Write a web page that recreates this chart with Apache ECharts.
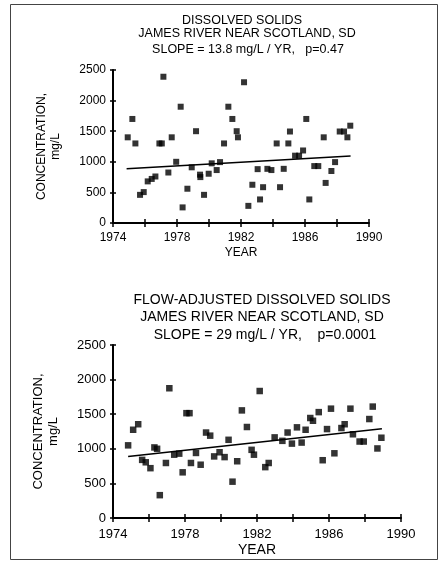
<!DOCTYPE html>
<html>
<head>
<meta charset="utf-8">
<script src="https://cdn.jsdelivr.net/npm/echarts@6/dist/echarts.min.js"></script>
<style>
  html, body { margin: 0; padding: 0; background: #fff; }
  #chart { width: 440px; height: 561px; }
</style>
</head>
<body>
<div id="chart"></div>
<script>
// dissolved solids (top panel)
const topYears = [
  1974.92, 1975.21, 1975.40, 1975.69, 1975.92, 1976.17, 1976.42, 1976.65, 1976.90, 1977.05,
  1977.15, 1977.46, 1977.67, 1977.95, 1978.23, 1978.35, 1978.65, 1978.92, 1979.19, 1979.44,
  1979.46, 1979.69, 1979.98, 1980.17, 1980.48, 1980.69, 1980.94, 1981.21, 1981.46, 1981.73,
  1981.81, 1982.19, 1982.46, 1982.71, 1983.04, 1983.19, 1983.38, 1983.65, 1983.90, 1984.23,
  1984.44, 1984.67, 1984.96, 1985.06, 1985.38, 1985.63, 1985.88, 1986.08, 1986.27, 1986.58,
  1986.83, 1987.17, 1987.29, 1987.65, 1987.88, 1988.17, 1988.44, 1988.65, 1988.83
]
const topValues = [
  1400, 1700, 1300, 460, 505, 680, 720, 760, 1300, 1300,
  2390, 825, 1400, 1000, 1900, 255, 560, 910, 1500, 790,
  750, 460, 805, 975, 865, 995, 1300, 1900, 1700, 1500,
  1400, 2300, 280, 625, 880, 385, 585, 885, 865, 1300,
  585, 885, 1300, 1495, 1100, 1100, 1185, 1700, 385, 930,
  930, 1400, 655, 850, 995, 1495, 1495, 1400, 1590
]
const topTrend = [[1974.85, 888], [1988.85, 1095]]

// flow-adjusted dissolved solids (bottom panel)
const bottomYears = [
  1974.84, 1975.12, 1975.40, 1975.62, 1975.82, 1976.08, 1976.30, 1976.45, 1976.60, 1976.94,
  1977.13, 1977.40, 1977.68, 1977.87, 1978.08, 1978.25, 1978.33, 1978.61, 1978.87, 1979.17,
  1979.40, 1979.62, 1979.92, 1980.20, 1980.42, 1980.64, 1980.90, 1981.16, 1981.44, 1981.70,
  1981.83, 1982.15, 1982.46, 1982.65, 1982.98, 1983.41, 1983.70, 1983.94, 1984.22, 1984.48,
  1984.70, 1984.96, 1985.11, 1985.43, 1985.65, 1985.89, 1986.11, 1986.30, 1986.69, 1986.87,
  1987.19, 1987.33, 1987.70, 1987.93, 1988.24, 1988.43, 1988.69, 1988.91
]
const bottomValues = [
  1050, 1275, 1355, 840, 805, 720, 1020, 1000, 330, 795,
  1875, 915, 930, 660, 1515, 1515, 795, 940, 770, 1235,
  1190, 890, 950, 880, 1130, 525, 820, 1555, 1315, 985,
  915, 1835, 735, 795, 1165, 1115, 1235, 1075, 1310, 1090,
  1275, 1445, 1405, 1530, 835, 1285, 1580, 935, 1300, 1355,
  1580, 1210, 1105, 1105, 1430, 1610, 1005, 1160
]
const bottomTrend = [[1974.84, 890], [1988.94, 1290]]

const yearTicks = [1974, 1978, 1982, 1986, 1990]

const font = "Liberation Sans"
const zip = (xs, ys) => xs.map((x, i) => [x, ys[i]])

const chart = echarts.init(document.getElementById("chart"))

// one visible axis pair + one overlay pair with inward ticks, so the ticks cross the line
function xAxes(gridIndex, labelSize, nameSize, margin, nameGap) {
  return [
    {
      gridIndex: gridIndex,
      type: "value",
      min: 1974,
      max: 1990,
      interval: 2,
      name: "YEAR",
      nameLocation: "middle",
      nameGap: nameGap,
      nameTextStyle: { color: "#000", fontFamily: font, fontSize: nameSize },
      axisLine: { lineStyle: { color: "#000", width: 2 } },
      axisTick: { length: 4, lineStyle: { color: "#000", width: 1.5 } },
      axisLabel: {
        color: "#000",
        fontFamily: font,
        fontSize: labelSize,
        margin: margin,
        formatter: (v) => (yearTicks.includes(v) ? String(v) : ""),
      },
      splitLine: { show: false },
    },
    {
      gridIndex: gridIndex + 2,
      type: "value",
      min: 1974,
      max: 1990,
      interval: 2,
      axisLine: { show: false },
      axisTick: { inside: true, length: 4, lineStyle: { color: "#000", width: 1.5 } },
      axisLabel: { show: false },
      splitLine: { show: false },
    },
  ]
}

function yAxes(gridIndex, labelSize, nameSize, nameGap) {
  return [
    {
      gridIndex: gridIndex,
      type: "value",
      min: 0,
      max: 2500,
      interval: 500,
      name: "CONCENTRATION,\nmg/L",
      nameLocation: "middle",
      nameRotate: 90,
      nameGap: nameGap,
      nameTextStyle: { color: "#000", fontFamily: font, fontSize: nameSize, lineHeight: nameSize + 2 },
      axisLine: { lineStyle: { color: "#000", width: 2 } },
      axisTick: { length: 3, lineStyle: { color: "#000", width: 1.5 } },
      axisLabel: {
        color: "#000",
        fontFamily: font,
        fontSize: labelSize,
        margin: 7,
        formatter: (v) => String(v),
      },
      splitLine: { show: false },
    },
    {
      gridIndex: gridIndex + 2,
      type: "value",
      min: 0,
      max: 2500,
      interval: 500,
      axisLine: { show: false },
      axisTick: { inside: true, length: 3, lineStyle: { color: "#000", width: 1.5 } },
      axisLabel: { show: false },
      splitLine: { show: false },
    },
  ]
}

const topX = xAxes(0, 12, 12, 9, 24)
const botX = xAxes(1, 13, 14, 10, 25)
const topY = yAxes(0, 12, 12, 50)
const botY = yAxes(1, 13, 13, 52)

const text = (x, y, s, size) => ({
  type: "text",
  x: x,
  y: y,
  style: { text: s, fill: "#000", font: size + "px '" + font + "'", align: "center", verticalAlign: "middle" },
})

chart.setOption({
  animation: false,
  backgroundColor: "#fff",
  grid: [
    { left: 113, top: 70, width: 256, height: 153 },
    { left: 113, top: 345, width: 288, height: 173 },
    { left: 113, top: 70, width: 256, height: 153 },
    { left: 113, top: 345, width: 288, height: 173 },
  ],
  // order: 0 top, 1 bottom, 2 top overlay, 3 bottom overlay
  xAxis: [topX[0], botX[0], topX[1], botX[1]],
  yAxis: [topY[0], botY[0], topY[1], botY[1]],
  series: [
    {
      type: "scatter",
      xAxisIndex: 0,
      yAxisIndex: 0,
      symbol: "rect",
      symbolSize: 6,
      itemStyle: { color: "#000" },
      data: zip(topYears, topValues),
    },
    {
      type: "line",
      xAxisIndex: 0,
      yAxisIndex: 0,
      showSymbol: false,
      lineStyle: { color: "#000", width: 1.5 },
      data: topTrend,
    },
    {
      type: "scatter",
      xAxisIndex: 1,
      yAxisIndex: 1,
      symbol: "rect",
      symbolSize: 6.5,
      itemStyle: { color: "#000" },
      data: zip(bottomYears, bottomValues),
    },
    {
      type: "line",
      xAxisIndex: 1,
      yAxisIndex: 1,
      showSymbol: false,
      lineStyle: { color: "#000", width: 1.5 },
      data: bottomTrend,
    },
  ],
  graphic: [
    {
      type: "rect",
      shape: { x: 10.5, y: 4.5, width: 427, height: 555 },
      style: { fill: "none", stroke: "#444", lineWidth: 1 },
    },
    text(242, 21, "DISSOLVED SOLIDS", 12.5),
    text(247, 34, "JAMES RIVER NEAR SCOTLAND, SD", 12.5),
    text(248, 50, "SLOPE = 13.8 mg/L / YR,   p=0.47", 12.5),
    text(262, 300, "FLOW-ADJUSTED DISSOLVED SOLIDS", 14),
    text(262, 317, "JAMES RIVER NEAR SCOTLAND, SD", 14),
    text(265, 335, "SLOPE = 29 mg/L / YR,    p=0.0001", 14),
  ],
})
</script>
</body>
</html>
